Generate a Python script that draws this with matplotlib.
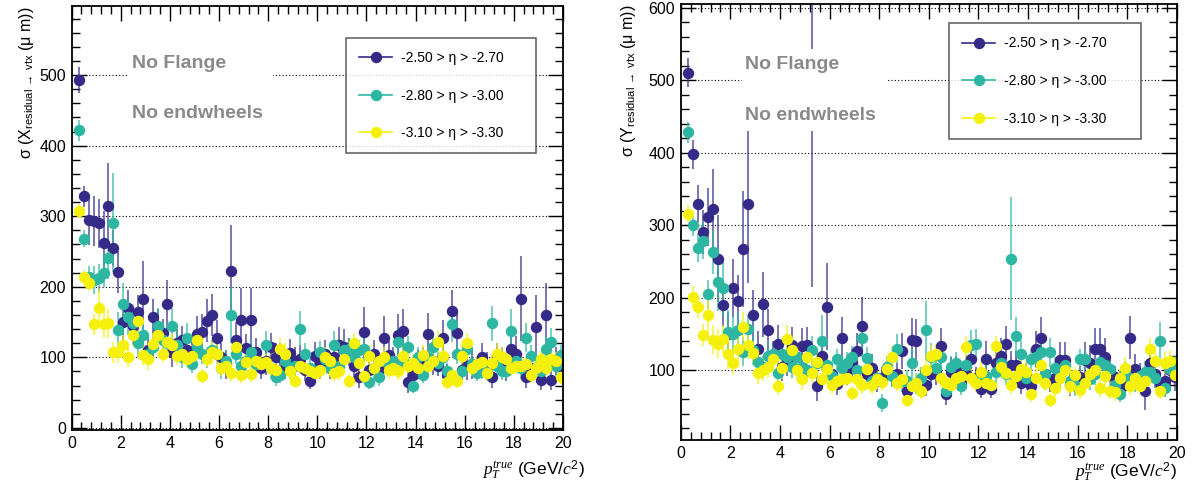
"""Vertex residual resolution vs pT, X and Y side by side (ROOT-style look)."""
import matplotlib
matplotlib.use("Agg")
import matplotlib.pyplot as plt
from matplotlib.lines import Line2D
from matplotlib.patches import Rectangle
from matplotlib.colors import to_rgba

plt.rcParams["font.family"] = ["Liberation Sans", "DejaVu Sans"]
plt.rcParams["mathtext.fontset"] = "custom"
plt.rcParams["mathtext.rm"] = "Liberation Sans"
plt.rcParams["mathtext.it"] = "Liberation Serif:italic"
plt.rcParams["mathtext.bf"] = "Liberation Sans:bold"

# pT bin centres (GeV/c)
PT = [0.3, 0.5, 0.7, 0.9, 1.1, 1.3, 1.5, 1.7, 1.9, 2.1,
      2.3, 2.5, 2.7, 2.9, 3.1, 3.3, 3.5, 3.7, 3.9, 4.1,
      4.3, 4.5, 4.7, 4.9, 5.1, 5.3, 5.5, 5.7, 5.9, 6.1,
      6.3, 6.5, 6.7, 6.9, 7.1, 7.3, 7.5, 7.7, 7.9, 8.1,
      8.3, 8.5, 8.7, 8.9, 9.1, 9.3, 9.5, 9.7, 9.9, 10.1,
      10.3, 10.5, 10.7, 10.9, 11.1, 11.3, 11.5, 11.7, 11.9, 12.1,
      12.3, 12.5, 12.7, 12.9, 13.1, 13.3, 13.5, 13.7, 13.9, 14.1,
      14.3, 14.5, 14.7, 14.9, 15.1, 15.3, 15.5, 15.7, 15.9, 16.1,
      16.3, 16.5, 16.7, 16.9, 17.1, 17.3, 17.5, 17.7, 17.9, 18.1,
      18.3, 18.5, 18.7, 18.9, 19.1, 19.3, 19.5, 19.7, 19.9]

ETA_LABELS = ["-2.50 > \u03b7 > -2.70", "-2.80 > \u03b7 > -3.00", "-3.10 > \u03b7 > -3.30"]
COLORS = ["#352a87", "#2db7a3", "#f5f10d"]

# sigma(X) [um]
X_ETA1 = [493, 328, 294, 293, 290, 262, 315, 255, 221, 150,
          170, 144, 164, 182, 110, 157, 143, 135, 175, 107,
          120, 125, 110, 108, 133, 136, 152, 160, 128, 100,
          90, 222, 125, 153, 113, 153, 108, 85, 95, 115,
          100, 100, 85, 106, 95, 98, 82, 67, 102, 90,
          105, 85, 100, 118, 115, 108, 88, 72, 136, 82,
          105, 82, 128, 103, 95, 132, 138, 65, 75, 90,
          95, 133, 95, 88, 128, 75, 165, 135, 82, 88,
          90, 85, 100, 88, 72, 100, 95, 82, 112, 105,
          183, 72, 85, 143, 68, 160, 68, 95, 88]
X_ETA1_ERR = [18, 15, 35, 35, 35, 45, 60, 25, 30, 30,
              25, 25, 25, 55, 20, 25, 25, 20, 35, 20,
              20, 20, 20, 20, 25, 25, 30, 30, 25, 20,
              20, 65, 25, 45, 20, 45, 20, 15, 20, 20,
              20, 20, 15, 20, 20, 20, 15, 12, 20, 20,
              20, 15, 20, 25, 25, 20, 20, 15, 35, 15,
              20, 15, 30, 20, 20, 30, 30, 15, 15, 20,
              20, 30, 20, 15, 25, 15, 30, 30, 15, 20,
              20, 15, 20, 20, 15, 20, 20, 15, 25, 25,
              60, 15, 20, 45, 15, 45, 15, 20, 20]
X_ETA2 = [422, 268, 214, 210, 212, 220, 241, 291, 139, 176,
          157, 148, 121, 131, 105, 115, 145, 125, 120, 145,
          118, 100, 128, 90, 115, 105, 100, 110, 105, 85,
          95, 160, 105, 88, 95, 108, 90, 92, 118, 85,
          72, 75, 95, 85, 88, 140, 105, 85, 80, 108,
          98, 85, 118, 88, 110, 112, 100, 110, 112, 65,
          85, 72, 95, 90, 95, 122, 95, 115, 60, 100,
          75, 100, 115, 92, 100, 80, 147, 105, 80, 112,
          90, 78, 85, 78, 148, 88, 80, 80, 138, 95,
          85, 128, 102, 85, 80, 112, 122, 88, 103]
X_ETA2_ERR = [15, 12, 15, 20, 20, 20, 30, 70, 25, 30,
              25, 20, 20, 20, 15, 20, 25, 15, 20, 25,
              20, 15, 20, 12, 15, 15, 15, 15, 15, 15,
              15, 40, 15, 12, 15, 15, 15, 15, 20, 15,
              12, 12, 15, 15, 15, 25, 15, 12, 12, 15,
              15, 12, 20, 15, 15, 15, 15, 15, 20, 10,
              15, 12, 15, 15, 15, 20, 15, 15, 10, 15,
              12, 15, 15, 15, 15, 12, 25, 15, 12, 15,
              15, 12, 15, 12, 25, 15, 12, 12, 30, 15,
              15, 20, 15, 15, 12, 20, 20, 15, 15]
X_ETA3 = [307, 214, 206, 147, 170, 147, 148, 107, 107, 117,
          101, 131, 152, 104, 97, 119, 131, 105, 122, 118,
          102, 105, 97, 102, 125, 73, 98, 107, 105, 85,
          88, 78, 115, 75, 93, 77, 95, 90, 93, 85,
          82, 112, 105, 80, 67, 88, 85, 80, 78, 82,
          100, 95, 78, 80, 97, 67, 120, 92, 73, 102,
          85, 95, 100, 82, 85, 80, 102, 88, 92, 85,
          103, 88, 95, 122, 102, 65, 75, 67, 102, 120,
          85, 90, 93, 78, 92, 105, 100, 97, 85, 88,
          88, 90, 75, 85, 97, 85, 97, 95, 72]
X_ETA3_ERR = [10, 10, 12, 15, 25, 20, 20, 15, 15, 15,
              15, 15, 15, 15, 15, 15, 15, 12, 15, 15,
              12, 15, 12, 15, 15, 10, 12, 15, 15, 12,
              12, 12, 15, 12, 12, 12, 12, 12, 12, 12,
              12, 15, 15, 12, 10, 12, 12, 12, 12, 12,
              15, 12, 12, 12, 12, 10, 15, 12, 10, 15,
              12, 12, 15, 12, 12, 12, 15, 12, 12, 12,
              15, 12, 12, 15, 15, 10, 12, 10, 15, 15,
              12, 12, 12, 12, 12, 15, 15, 12, 12, 12,
              12, 12, 12, 12, 12, 12, 15, 12, 10]

# sigma(Y) [um]
Y_ETA1 = [510, 398, 330, 291, 312, 323, 254, 190, 150, 213,
          196, 267, 330, 176, 129, 191, 155, 120, 137, 105,
          112, 135, 118, 134, 135, 450, 78, 120, 188, 95,
          81, 144, 100, 110, 127, 161, 95, 103, 85, 90,
          98, 94, 95, 127, 72, 142, 141, 85, 80, 95,
          100, 134, 67, 98, 100, 85, 95, 116, 90, 74,
          116, 74, 110, 120, 136, 107, 107, 83, 95, 78,
          129, 144, 95, 85, 90, 114, 114, 80, 85, 91,
          114, 110, 129, 129, 119, 100, 91, 85, 80, 145,
          102, 95, 71, 110, 95, 83, 85, 100, 91]
Y_ETA1_ERR = [20, 20, 25, 30, 40, 55, 60, 30, 30, 40,
              35, 80, 110, 35, 25, 45, 30, 20, 25, 20,
              20, 25, 20, 25, 25, 235, 20, 20, 60, 15,
              15, 30, 20, 20, 25, 40, 15, 20, 15, 15,
              15, 15, 15, 25, 15, 30, 30, 15, 15, 15,
              20, 25, 15, 20, 20, 15, 15, 25, 15, 12,
              25, 12, 20, 25, 25, 20, 20, 15, 15, 15,
              25, 30, 15, 15, 20, 25, 25, 15, 15, 15,
              25, 25, 30, 30, 25, 20, 15, 15, 15, 30,
              20, 15, 25, 25, 20, 15, 20, 20, 20]
Y_ETA2 = [428, 300, 269, 279, 205, 263, 222, 213, 153, 150,
          155, 126, 157, 128, 111, 105, 120, 122, 96, 122,
          118, 104, 118, 105, 100, 128, 110, 141, 108, 92,
          115, 103, 110, 118, 100, 144, 117, 85, 90, 55,
          105, 92, 130, 85, 85, 110, 82, 90, 155, 118,
          103, 118, 72, 105, 110, 78, 108, 135, 137, 88,
          92, 80, 98, 110, 95, 254, 148, 122, 90, 115,
          118, 125, 95, 125, 103, 92, 108, 85, 80, 115,
          115, 88, 95, 112, 108, 102, 80, 68, 98, 88,
          85, 92, 98, 98, 90, 141, 75, 102, 105]
Y_ETA2_ERR = [15, 15, 20, 25, 20, 30, 40, 40, 30, 25,
              25, 20, 20, 20, 15, 15, 20, 15, 15, 20,
              15, 15, 20, 15, 15, 20, 15, 35, 15, 15,
              15, 15, 15, 15, 15, 25, 15, 15, 15, 12,
              15, 15, 20, 15, 15, 20, 15, 15, 40, 20,
              15, 20, 12, 15, 15, 12, 15, 20, 20, 15,
              15, 12, 15, 15, 15, 85, 25, 20, 15, 15,
              15, 20, 15, 20, 15, 15, 15, 15, 15, 15,
              15, 15, 15, 20, 15, 15, 12, 12, 15, 15,
              15, 15, 15, 15, 15, 25, 12, 15, 15]
Y_ETA3 = [316, 201, 187, 149, 177, 142, 137, 143, 122, 110,
          129, 160, 135, 124, 96, 100, 105, 115, 78, 103,
          143, 128, 100, 88, 118, 97, 112, 88, 102, 80,
          85, 88, 90, 69, 88, 80, 102, 80, 88, 84,
          102, 118, 83, 88, 59, 78, 83, 72, 100, 120,
          122, 90, 82, 80, 90, 92, 132, 90, 82, 98,
          82, 80, 133, 105, 97, 80, 92, 102, 98, 68,
          90, 108, 83, 59, 75, 90, 100, 78, 93, 73,
          82, 95, 100, 75, 92, 72, 70, 90, 103, 78,
          90, 78, 85, 130, 113, 72, 110, 113, 94]
Y_ETA3_ERR = [12, 15, 15, 15, 25, 20, 20, 20, 20, 15,
              20, 20, 20, 15, 15, 15, 15, 15, 12, 15,
              20, 15, 15, 15, 15, 15, 15, 15, 15, 12,
              12, 12, 12, 10, 12, 12, 15, 12, 12, 12,
              15, 15, 12, 12, 10, 12, 12, 12, 15, 15,
              15, 12, 12, 12, 12, 12, 15, 12, 12, 15,
              12, 12, 15, 15, 12, 12, 15, 15, 15, 12,
              12, 15, 12, 10, 12, 12, 15, 12, 12, 12,
              12, 15, 15, 12, 12, 12, 12, 12, 15, 12,
              12, 12, 12, 15, 15, 12, 15, 15, 12]

NOTE_LINES = ["No Flange", "No endwheels"]
NOTE_GREY = "#8a8a8a"


def style_axes(ax, ylim, yticks):
    ax.set_xlim(0, 20)
    ax.set_xticks(range(0, 21, 2))
    ax.set_xticks([i * 0.4 for i in range(51)], minor=True)
    ax.set_yticks(yticks)
    ax.set_yticks(range(0, 601, 20), minor=True)
    ax.set_ylim(*ylim)
    ax.tick_params(which="both", direction="in", top=True, right=True,
                   labelsize=11.5, width=1.0)
    ax.tick_params(which="major", length=11, pad=4)
    ax.tick_params(which="minor", length=6)
    for s in ax.spines.values():
        s.set_linewidth(1.3)
    ax.yaxis.grid(True, which="major", linestyle=(0, (1, 2)), color="black", lw=0.8)


def draw_panel(ax, series, errs, axis_name, box, note_pos, legend_box):
    for y, e, c in zip(series, errs, COLORS):
        ax.errorbar(PT, y, yerr=e, fmt="o", color=c, mec=c, ms=7.2,
                    ecolor=to_rgba(c, 0.65), elinewidth=1.4, capsize=0)

    # white pave behind the annotation text (hides grid/points like in ROOT)
    x0, x1, y0, y1 = box
    ax.add_patch(Rectangle((x0, y0), x1 - x0, y1 - y0, facecolor="white",
                           edgecolor="none", zorder=4))
    nx, ny1, ny2 = note_pos
    for txt, ny in zip(NOTE_LINES, (ny1, ny2)):
        ax.text(nx, ny, txt, fontsize=14, fontweight="bold", color=NOTE_GREY,
                family="Liberation Sans", va="center", ha="left", zorder=5)

    handles = [Line2D([], [], color=c, marker="o", ms=7.2, lw=1.2) for c in COLORS]
    leg = ax.legend(handles, ETA_LABELS, loc="upper left", bbox_to_anchor=legend_box,
                    mode="expand", borderaxespad=0, fancybox=False, frameon=True,
                    fontsize=10, handlelength=2.4, handletextpad=0.6,
                    labelspacing=1.7, borderpad=0.95)
    leg.get_frame().set_edgecolor("#333333")
    leg.get_frame().set_linewidth(1.1)

    ax.set_ylabel("\u03c3 (" + axis_name
                  + r"$_{\mathregular{residual}\ \rightarrow\ \mathregular{vtx}}$"
                  + " (\u03bc m))",
                  fontsize=11.5, loc="top")
    ax.set_xlabel(r"$p_{T}^{true}$ (GeV/$c^{2}$)", fontsize=12.5, loc="right")


fig = plt.figure(figsize=(11.96, 4.95), dpi=100)
ax_x = fig.add_axes([0.0599, 0.1313, 0.4108, 0.8566])
ax_y = fig.add_axes([0.5692, 0.1111, 0.4149, 0.8808])

style_axes(ax_x, (-3, 598), range(0, 501, 100))
draw_panel(ax_x, [X_ETA1, X_ETA2, X_ETA3], [X_ETA1_ERR, X_ETA2_ERR, X_ETA3_ERR], "X",
           box=(2.25, 8.2, 425, 540), note_pos=(2.44, 516, 446),
           legend_box=(0.558, 0.0, 0.387, 0.925))
ax_x.yaxis.set_label_coords(-0.072, 1.0)
ax_x.xaxis.set_label_coords(1.045, -0.068)

style_axes(ax_y, (4, 605), range(100, 601, 100))
draw_panel(ax_y, [Y_ETA1, Y_ETA2, Y_ETA3], [Y_ETA1_ERR, Y_ETA2_ERR, Y_ETA3_ERR], "Y",
           box=(2.48, 8.35, 430, 543), note_pos=(2.6, 521, 452),
           legend_box=(0.540, 0.0, 0.388, 0.956))
ax_y.yaxis.set_label_coords(-0.086, 1.0)
ax_y.xaxis.set_label_coords(1.0, -0.048)

fig.savefig("out.png", dpi=100)
